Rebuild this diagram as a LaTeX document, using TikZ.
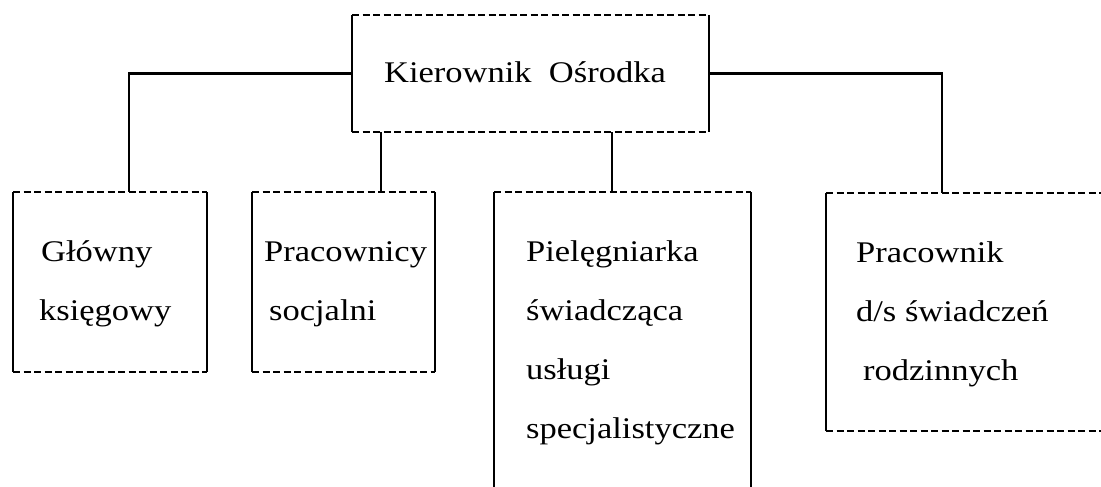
\documentclass[tikz,border=0pt]{standalone}
\usepackage{fontspec}
\setmainfont{Liberation Serif}[FakeStretch=1.15]
\newcommand\orgframe[1]{%
  \draw[dsh] (#1.north west) -- (#1.north east) (#1.south west) -- (#1.south east);
  \draw (#1.north west) -- (#1.south west) (#1.north east) -- (#1.south east);}
\begin{document}
\begin{tikzpicture}[x=1pt,y=-1pt,line width=2.3pt,
  box/.style={inner sep=0pt,outer sep=0pt,anchor=north west},
  lbl/.style={inner sep=0pt,anchor=base west,align=left,font=\fontsize{30}{59}\selectfont},
  dsh/.style={dash pattern=on 7pt off 3.5pt}]
\clip (0,0) rectangle (1101,487);
\fill[white] (0,0) rectangle (1101,487);
\node[box,minimum width=357pt,minimum height=117pt] (top) at (352,15) {};
\node[box,minimum width=194pt,minimum height=180pt] (b1) at (13,192) {};
\node[box,minimum width=183pt,minimum height=180pt] (b2) at (252,192) {};
\node[box,minimum width=257pt,minimum height=328pt] (b3) at (494,192) {};
\node[box,minimum width=304pt,minimum height=238pt] (b4) at (826,193) {};
\orgframe{top}\orgframe{b1}\orgframe{b2}\orgframe{b3}\orgframe{b4}
\draw (top.west) -| ([xshift=19pt]b1.north);
\draw ([xshift=29pt]top.south west) -- ([xshift=29pt]top.south west |- b2.north);
\draw ([xshift=260pt]top.south west) -- ([xshift=260pt]top.south west |- b3.north);
\draw (top.east) -| ([xshift=116pt]b4.north west);
\node[lbl] (t0) at (383,82) {Kierownik\ \ Ośrodka};
\node[lbl] (t1) at (40,320) {Główny\\\hspace*{-2pt}księgowy};
\node[lbl] (t2) at (263,320) {Pracownicy\\\hspace*{5pt}socjalni};
\node[lbl] (t3) at (525,438) {Pielęgniarka\\świadcząca\\usługi\\specjalistyczne};
\node[lbl] (t4) at (855,380) {Pracownik\\d/s świadczeń\\\hspace*{7pt}rodzinnych};
\end{tikzpicture}
\end{document}
